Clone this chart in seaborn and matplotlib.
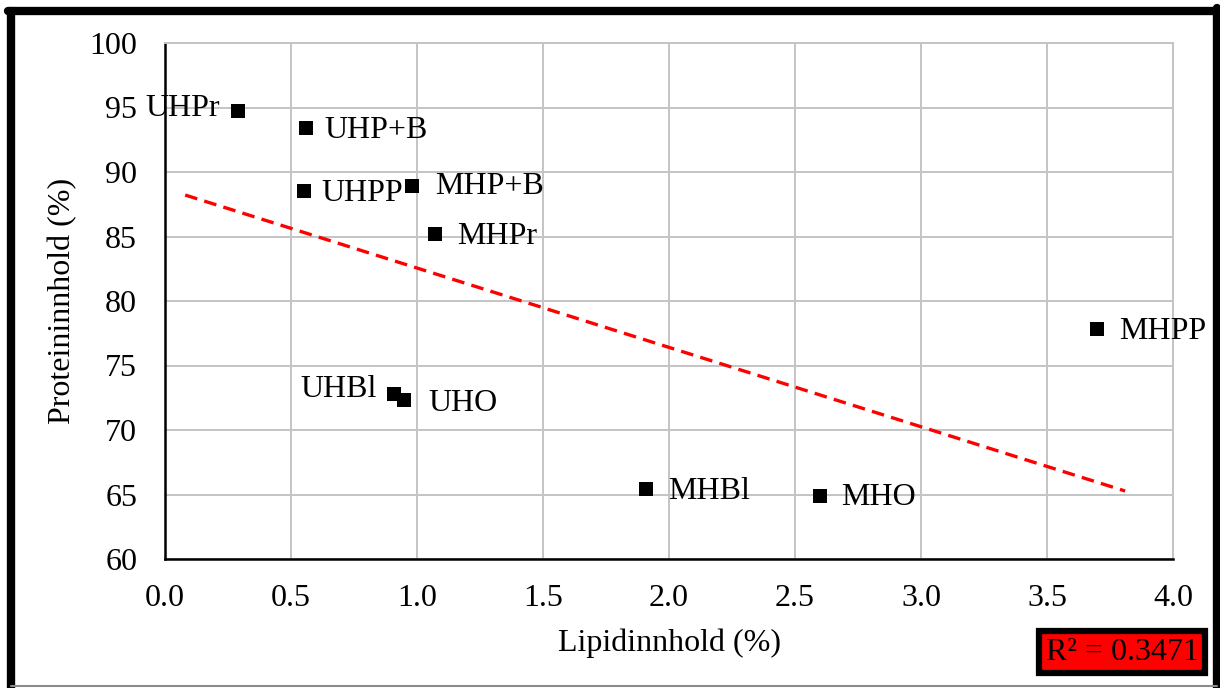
import numpy as np
import pandas as pd
import matplotlib
matplotlib.use("Agg")
import matplotlib.pyplot as plt
import seaborn as sns
from matplotlib.lines import Line2D

# ---- data ----
samples = ["UHPr", "UHP+B", "UHPP", "MHP+B", "MHPr", "MHPP", "UHBl", "UHO", "MHBl", "MHO"]
lipid = [0.29, 0.56, 0.55, 0.98, 1.07, 3.70, 0.91, 0.95, 1.91, 2.60]
protein = [94.7, 93.4, 88.5, 88.9, 85.2, 77.8, 72.8, 72.3, 65.4, 64.9]
trend_range = [0.08, 3.81]
r2_text = "R² = 0.3471"
x_ticks = [0.0, 0.5, 1.0, 1.5, 2.0, 2.5, 3.0, 3.5, 4.0]
y_ticks = [60, 65, 70, 75, 80, 85, 90, 95, 100]

df = pd.DataFrame({"sample": samples, "lipid": lipid, "protein": protein})

sns.set_theme(style="white")
plt.rcParams["font.family"] = ["Liberation Serif", "DejaVu Serif"]
FS = 23

W, H = 1220, 688
fig = plt.figure(figsize=(W / 100, H / 100), dpi=100)
ax = fig.add_axes([165 / W, 1 - 559 / H, (1173 - 165) / W, (559 - 43) / H])

# trendline
slope, intercept = np.polyfit(df["lipid"], df["protein"], 1)
tx = np.array(trend_range)
ax.plot(tx, slope * tx + intercept, color="#ff0000", lw=2.4, ls=(0, (3.8, 2.2)), zorder=2)

sns.scatterplot(data=df, x="lipid", y="protein", marker="s", s=105, color="black",
                edgecolor="black", linewidth=0, ax=ax, zorder=3, legend=False)

# point labels (offsets in points)
offsets = {
    "UHPr": (-13, 2, "right"), "UHP+B": (13, -1.5, "left"), "UHPP": (13, -1.5, "left"),
    "MHP+B": (17, 0, "left"), "MHPr": (16, -1.5, "left"), "MHPP": (16, -1.5, "left"),
    "UHBl": (-13, 3, "right"), "UHO": (17, -2, "left"), "MHBl": (16, -1.5, "left"),
    "MHO": (15, -1.5, "left"),
}
for s, xv, yv in zip(samples, lipid, protein):
    dx, dy, ha = offsets[s]
    ax.annotate(s, (xv, yv), xytext=(dx, dy), textcoords="offset points",
                ha=ha, va="center", fontsize=FS, color="black", zorder=4)

ax.set_xlim(0, 4)
ax.set_ylim(60, 100)
ax.set_xticks(x_ticks)
ax.set_xticklabels([f"{v:.1f}" for v in x_ticks])
ax.set_yticks(y_ticks)
ax.set_yticklabels([str(v) for v in y_ticks])
ax.tick_params(axis="both", length=0, labelsize=FS, colors="black")
ax.tick_params(axis="y", pad=20)
ax.tick_params(axis="x", pad=18)
ax.grid(True, color="#c4c4c4", lw=1.4)
ax.set_axisbelow(True)
for side in ["top", "right"]:
    ax.spines[side].set_color("#c4c4c4")
    ax.spines[side].set_linewidth(1.4)
for side in ["left", "bottom"]:
    ax.spines[side].set_color("black")
    ax.spines[side].set_linewidth(1.8)

ax.set_xlabel("Lipidinnhold (%)", fontsize=FS, color="black", labelpad=11)
ax.set_ylabel("Proteininnhold (%)", fontsize=FS, color="black", labelpad=9)

# R² box
fig.text(1122 / W, 1 - 652 / H, r2_text, fontsize=FS, color="black", ha="center", va="center",
         bbox=dict(boxstyle="square,pad=0.2", facecolor="#ff0000", edgecolor="black", linewidth=4.5))

# figure border
lw_b = 6
fig.add_artist(Line2D([11 / W, 11 / W], [1 - 11 / H, 0], color="black", lw=lw_b, transform=fig.transFigure))
fig.add_artist(Line2D([8 / W, 1217 / W], [1 - 11 / H, 1 - 11 / H], color="black", lw=lw_b, transform=fig.transFigure))
fig.add_artist(Line2D([1217 / W, 1217 / W], [1 - 8 / H, 0], color="black", lw=lw_b, transform=fig.transFigure))
fig.add_artist(Line2D([11 / W, 1217 / W], [1 - 686 / H, 1 - 686 / H], color="#8c8c8c", lw=1.5, transform=fig.transFigure))

fig.savefig("out.png", dpi=100)
